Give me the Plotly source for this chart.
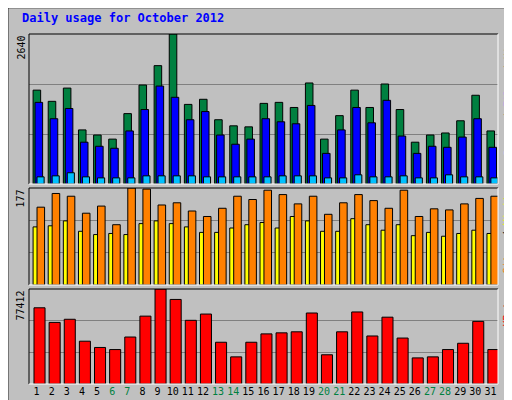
import plotly.graph_objects as go

days = list(range(1, 32))
weekend = [6, 7, 13, 14, 20, 21, 27, 28]

hits = [1652, 1455, 1688, 952, 862, 790, 1239, 1742, 2083, 2640, 1401, 1491, 1131, 1024, 1006, 1419,
        1437, 1347, 1778, 790, 1203, 1652, 1347, 1760, 1311, 736, 862, 898, 1113, 1562, 934]
files = [1437, 1149, 1329, 736, 664, 629, 934, 1311, 1724, 1526, 1131, 1275, 862, 700, 790, 1149,
         1095, 1060, 1383, 539, 952, 1347, 1077, 1473, 844, 539, 664, 646, 826, 1149, 646]
pages = [126, 144, 198, 126, 108, 108, 108, 144, 144, 144, 144, 126, 126, 126, 126, 126,
         144, 144, 144, 108, 108, 162, 126, 126, 144, 108, 108, 162, 126, 126, 108]
visits = [142, 167, 162, 131, 144, 110, 177, 175, 146, 150, 135, 125, 140, 162, 156, 173,
          165, 148, 162, 129, 150, 165, 154, 140, 173, 125, 139, 137, 148, 158, 162]
sites = [106, 108, 117, 98, 92, 94, 92, 112, 117, 112, 106, 96, 96, 104, 110, 114,
         104, 125, 117, 98, 98, 121, 110, 100, 110, 90, 96, 89, 94, 100, 94]
kbytes = [62108, 50197, 52750, 34883, 29778, 28076, 38286, 55302, 77412, 68915, 51899, 57004,
          34032, 22121, 34032, 40838, 41689, 42540, 57854, 23822, 42540, 58705, 39137, 54451,
          37435, 21270, 22121, 28076, 33181, 51048, 28076]

BG = "#C0C0C0"
MONO = "DejaVu Sans Mono"
outline = dict(color="black", width=1)

fig = go.Figure()


def bars(y, color, offset, width, ax):
    fig.add_trace(go.Bar(x=days, y=y, marker=dict(color=color, line=outline),
                         offset=offset, width=width, xaxis="x" + ax, yaxis="y" + ax,
                         hoverinfo="skip"))


bars(hits, "#008040", -0.23, 0.5, "")
bars(files, "#0000FF", -0.1, 0.5, "")
bars(pages, "#00C0FF", 0.03, 0.47, "")
bars(sites, "#FFFF00", -0.23, 0.4, "2")
bars(visits, "#FF8000", 0.03, 0.5, "2")
bars(kbytes, "#FF0000", -0.17, 0.73, "3")

ticktext = ['<span style="color:#008040">%d</span>' % d if d in weekend else str(d) for d in days]

xcommon = dict(range=[0.5, 31.5], showgrid=False, zeroline=False, fixedrange=True)
fig.update_layout(
    width=512, height=400, paper_bgcolor=BG, plot_bgcolor=BG,
    margin=dict(l=21, r=22, t=26, b=24), barmode="overlay", showlegend=False,
    font=dict(family=MONO, size=10, color="black"),
    xaxis=dict(**xcommon, anchor="y", showticklabels=False),
    xaxis2=dict(**xcommon, anchor="y2", showticklabels=False),
    xaxis3=dict(**xcommon, anchor="y3", tickvals=days, ticktext=ticktext, ticks="",
                tickangle=0, automargin=False, tickfont=dict(family=MONO, size=10)),
)


def yax(top, dom):
    return dict(domain=dom, range=[0, top], tickvals=[top / 3, top * 2 / 3], showticklabels=False,
                gridcolor="#808080", gridwidth=1, zeroline=False, ticks="")


fig.update_layout(yaxis=yax(max(hits), [0.5714, 1]),
                  yaxis2=yax(max(visits), [0.2829, 0.56]),
                  yaxis3=yax(max(kbytes), [0, 0.2714]))

# panel borders (3D look)
shapes = [dict(type="rect", xref="paper", yref="paper", x0=-0.045, x1=1.045, y0=-0.07, y1=1.075,
               line=dict(color="black", width=1))]
for d0, d1 in [(0.5714, 1), (0.2829, 0.56), (0, 0.2714)]:
    shapes.append(dict(type="line", xref="paper", yref="paper", x0=0, x1=1, y0=d1, y1=d1,
                       line=dict(color="black", width=1)))
    shapes.append(dict(type="line", xref="paper", yref="paper", x0=0, x1=0, y0=d0, y1=d1,
                       line=dict(color="black", width=1)))
    shapes.append(dict(type="line", xref="paper", yref="paper", x0=0, x1=1, y0=d0, y1=d0,
                       line=dict(color="white", width=1)))
    shapes.append(dict(type="line", xref="paper", yref="paper", x0=1, x1=1, y0=d0, y1=d1,
                       line=dict(color="white", width=1)))
fig.update_layout(shapes=shapes)

ann = [dict(text="<b>Daily usage for October 2012</b>", xref="paper", yref="paper", x=-0.02,
            y=1.07, xanchor="left", yanchor="top", showarrow=False,
            font=dict(family=MONO, size=12, color="#0000FF"))]
for top, d1 in [(max(hits), 1), (max(visits), 0.56), (max(kbytes), 0.2714)]:
    ann.append(dict(text=str(top), xref="paper", yref="paper", x=0, xshift=-1, y=d1,
                    xanchor="right", yanchor="top", textangle=-90, showarrow=False,
                    font=dict(size=10)))
right = [
    ('<span style="color:#00C0FF">Pages</span> / <span style="color:#0000FF">Files</span>'
     ' / <span style="color:#008040">Hits</span>', 1),
    ('<span style="color:#FF8000">Sites</span> / <span style="color:#FFFF00">Visits</span>', 0.56),
    ('<span style="color:#FF0000">KBytes</span>', 0.2714),
]
for txt, d1 in right:
    ann.append(dict(text=txt, xref="paper", yref="paper", x=1, xshift=2, y=d1, xanchor="left",
                    yanchor="top", textangle=-90, showarrow=False, font=dict(size=10)))
fig.update_layout(annotations=ann)

fig.write_html("out.html")
